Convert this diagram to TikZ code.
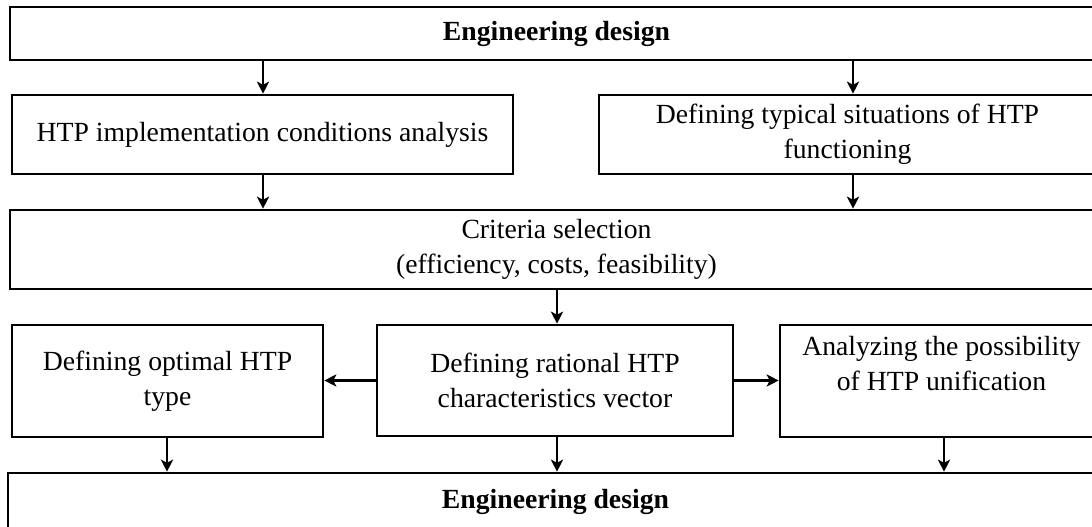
\documentclass[tikz,border=0pt]{standalone}
\usepackage{fontspec}
\setmainfont{Liberation Serif}
\usetikzlibrary{arrows.meta}
\tikzset{
  box/.style={draw, line width=2.6pt, rectangle, inner sep=0pt, align=center,
    font=\fontsize{27.7}{35}\selectfont},
  arr/.style={line width=2.6pt, -{Stealth[length=12pt,width=12pt,inset=3pt]}}
}
\begin{document}
\begin{tikzpicture}[x=1pt,y=-1pt]
\useasboundingbox (0,0) rectangle (1092,527);
\clip (0,0) rectangle (1092,527);
\node[box, minimum width=1093pt, minimum height=53pt] (top) at (556.5,33.5) {\bfseries Engineering design};
\node[box, minimum width=501pt, minimum height=79pt] (b2) at (262.5,134.5) {HTP implementation conditions analysis};
\node[box, minimum width=497pt, minimum height=79pt] (b3) at (847.5,134.5) {Defining typical situations of  HTP\\functioning};
\node[box, minimum width=1093pt, minimum height=79pt] (crit) at (556.5,249.5) {Criteria selection\\(efficiency, costs, feasibility)};
\node[box, minimum width=311pt, minimum height=112pt] (l4) at (167.5,381) {Defining optimal HTP\\type};
\node[box, minimum width=356pt, minimum height=111pt] (c4) at (555,380.5) {Defining rational HTP\\characteristics vector};
\node[box, minimum width=323pt, minimum height=112pt] (r4) at (941.5,381) {Analyzing the possibility\\of HTP unification\\\mbox{}};
\node[box, minimum width=1095pt, minimum height=58pt] (bot) at (555.5,502) {\bfseries Engineering design};
\coordinate (xa) at (263,0);
\coordinate (xb) at (853,0);
\coordinate (xc) at (557,0);
\coordinate (xd) at (167,0);
\coordinate (xe) at (944,0);
\draw[arr] (xa |- top.south) -- (xa |- b2.north);
\draw[arr] (xb |- top.south) -- (xb |- b3.north);
\draw[arr] (xa |- b2.south) -- (xa |- crit.north);
\draw[arr] (xb |- b3.south) -- (xb |- crit.north);
\draw[arr] (xc |- crit.south) -- (xc |- c4.north);
\draw[arr] (c4.west) -- (c4.west -| l4.east);
\draw[arr] (c4.east) -- (c4.east -| r4.west);
\draw[arr] (xd |- l4.south) -- (xd |- bot.north);
\draw[arr] (xc |- c4.south) -- (xc |- bot.north);
\draw[arr] (xe |- r4.south) -- (xe |- bot.north);
\end{tikzpicture}
\end{document}
